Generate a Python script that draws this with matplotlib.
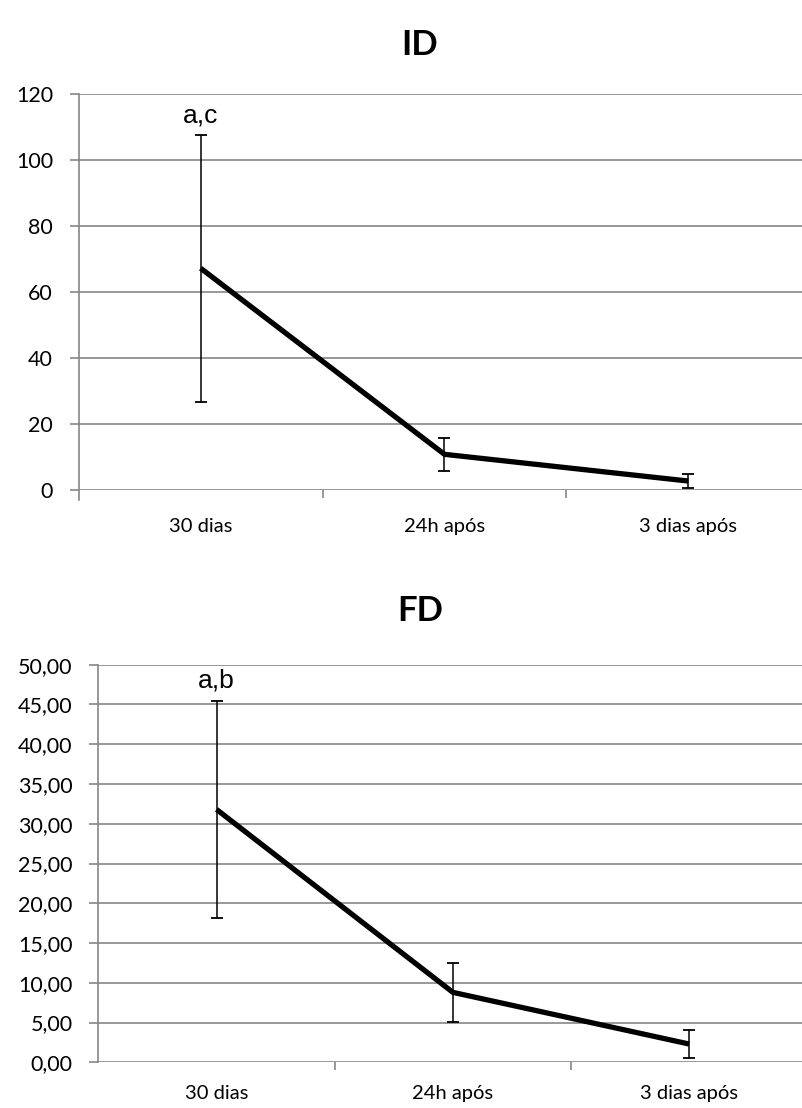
import matplotlib
matplotlib.use("Agg")
import matplotlib.pyplot as plt
from matplotlib.ticker import FixedLocator, NullFormatter

categories = ["30 dias", "24h após", "3 dias após"]

id_values = [67.2, 10.8, 2.7]
id_errors = [40.5, 5.0, 2.1]
id_ticks = [0, 20, 40, 60, 80, 100, 120]
id_labels = ["0", "20", "40", "60", "80", "100", "120"]

fd_values = [31.8, 8.8, 2.3]
fd_errors = [13.6, 3.7, 1.8]
fd_ticks = [0, 5, 10, 15, 20, 25, 30, 35, 40, 45, 50]
fd_labels = ["0,00", "5,00", "10,00", "15,00", "20,00", "25,00", "30,00",
             "35,00", "40,00", "45,00", "50,00"]

annotations = ["a,c", "a,b"]
titles = ["ID", "FD"]

TICK_FONT = "Lato"
GRID = "#868686"

fig = plt.figure(figsize=(8.03, 11.08), dpi=100)

def draw(ax, values, errors, ticks, labels, ylim, ann, ann_y, xpad):
    x = list(range(len(categories)))
    ax.set_xlim(-0.5, len(categories) - 0.5)
    ax.set_ylim(*ylim)
    for t in ticks:
        ax.axhline(t, color=GRID, lw=1.2, zorder=1)
    ax.errorbar(x, values, yerr=errors, fmt="none", ecolor="black",
                elinewidth=1.1, capsize=4.5, capthick=1.3, zorder=3)
    ax.plot(x, values, color="black", lw=3.8, solid_capstyle="butt", zorder=4)
    ax.set_yticks(ticks)
    ax.set_yticklabels(labels, fontfamily=TICK_FONT, fontsize=15.5, color="black")
    ax.set_xticks(x)
    ax.set_xticklabels(categories, fontfamily=TICK_FONT, fontsize=14.5, color="black")
    ax.tick_params(axis="x", which="major", length=0, pad=xpad)
    ax.xaxis.set_minor_locator(FixedLocator([0.5, 1.5]))
    ax.xaxis.set_minor_formatter(NullFormatter())
    ax.tick_params(axis="x", which="minor", length=6, width=1.2, color=GRID, direction="out")
    ax.tick_params(axis="y", length=6.5, width=1.2, color=GRID, pad=12)
    for s in ["top", "right"]:
        ax.spines[s].set_visible(False)
    ax.spines["bottom"].set_visible(False)
    ax.spines["left"].set_color(GRID)
    ax.spines["left"].set_linewidth(1.2)
    ax.spines["left"].set_zorder(2)
    ax.text(0, ann_y, ann, ha="center", va="center", fontsize=19,
            fontfamily="Liberation Sans", color="black", zorder=5)

ax1 = fig.add_axes([0.098, 0.5578, 0.911, 0.3574])
draw(ax1, id_values, id_errors, id_ticks, id_labels, (0, 120), annotations[0], 113.5, 20)
ax1.spines["left"].set_bounds(-3, 120)

ax2 = fig.add_axes([0.1225, 0.0412, 0.883, 0.3589])
draw(ax2, fd_values, fd_errors, fd_ticks, fd_labels, (0, 50), annotations[1], 48.0, 16)

fig.text(0.523, 0.959, titles[0], ha="center", va="center", fontsize=25,
         fontweight="bold", fontfamily="Lato")
fig.text(0.523, 0.449, titles[1], ha="center", va="center", fontsize=25,
         fontweight="bold", fontfamily="Lato")

fig.savefig("out.png", dpi=100)
